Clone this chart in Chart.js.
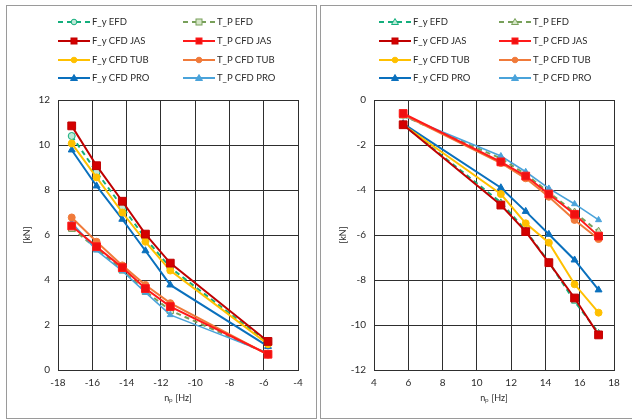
<!DOCTYPE html>
<html><head><meta charset="utf-8">
<script src="https://cdn.jsdelivr.net/npm/chart.js@4.4.0/dist/chart.umd.min.js"></script>
<style>
html,body{margin:0;padding:0;background:#fff;width:632px;height:419px;overflow:hidden;position:relative;}
.panel{position:absolute;border:1px solid #9a9a9a;box-sizing:border-box;}
canvas{position:absolute;top:0;}
.leg{position:absolute;font:9.5px Lato, sans-serif;color:#2a2a2a;white-space:nowrap;height:12px;line-height:12px;}
.leg svg{position:absolute;left:0;top:1px;}
.leg span{position:absolute;top:0;}
</style></head><body>
<div class="panel" style="left:6px;top:5px;width:311px;height:414px"></div>
<div class="panel" style="left:320px;top:5px;width:314px;height:414px"></div>
<canvas id="cL" width="316" height="419" style="left:0"></canvas>
<canvas id="cR" width="316" height="419" style="left:316px"></canvas>
<script>
// ---- data ----
const seriesNames = ["F_y EFD", "T_P EFD", "F_y CFD JAS", "T_P CFD JAS", "F_y CFD TUB", "T_P CFD TUB", "F_y CFD PRO", "T_P CFD PRO"];

const xLeft = [-17.2, -15.75, -14.25, -12.9, -11.45, -5.75];
const FyEFD_L = [10.4, 8.8, 7.25, 5.85, 4.55, 1.2];
const TpEFD_L = [6.3, 5.4, 4.45, 3.5, 2.65, 0.72];
const FyJAS_L = [10.85, 9.08, 7.5, 6.04, 4.75, 1.27];
const TpJAS_L = [6.4, 5.48, 4.55, 3.62, 2.82, 0.7];
const FyTUB_L = [10.07, 8.56, 7.0, 5.7, 4.42, 1.15];
const TpTUB_L = [6.78, 5.7, 4.65, 3.78, 2.97, 0.68];
const FyPRO_L = [9.78, 8.18, 6.7, 5.3, 3.78, 1.05];
const TpPRO_L = [6.55, 5.32, 4.4, 3.45, 2.45, 0.75];

const xRight = [5.7, 11.4, 12.85, 14.2, 15.7, 17.1];
const FyEFD_R = [-1.1, -4.55, -5.8, -7.2, -8.95, -10.35];
const TpEFD_R = [-0.7, -2.6, -3.3, -4.1, -5.0, -5.85];
const FyJAS_R = [-1.1, -4.67, -5.85, -7.23, -8.8, -10.44];
const TpJAS_R = [-0.6, -2.75, -3.38, -4.18, -5.08, -6.05];
const FyTUB_R = [-1.1, -4.18, -5.48, -6.34, -8.19, -9.45];
const TpTUB_R = [-0.65, -2.8, -3.48, -4.3, -5.33, -6.18];
const FyPRO_R = [-1.05, -3.9, -4.95, -5.97, -7.11, -8.44];
const TpPRO_R = [-0.7, -2.49, -3.19, -3.93, -4.62, -5.33];

const leftTicksX = {min: -18, max: -4, step: 2};
const leftTicksY = {min: 0, max: 12, step: 2};
const rightTicksX = {min: 4, max: 18, step: 2};
const rightTicksY = {min: -12, max: 0, step: 2};
const xTitle = "nₚ [Hz]";
const yTitle = "[kN]";

// ---- styles ----
const styles = [
  {color:'#14ae7c', dash:[5,4], point:'circle', r:3.5, fill:'#bfe9d8', order:3, w:2},
  {color:'#78a05a', dash:[5,4], point:'rect', r:4.5, fill:'#d6e6c8', order:3, w:2},
  {color:'#c00000', dash:[], point:'rect', r:5.5, fill:'#d40000', order:0, w:2},
  {color:'#ff1a1a', dash:[], point:'rect', r:5.5, fill:'#f01010', order:0, w:2},
  {color:'#ffc000', dash:[], point:'circle', r:3.5, fill:'#ffc000', order:1, w:2},
  {color:'#f07a3a', dash:[], point:'circle', r:3.5, fill:'#f07a3a', order:1, w:2},
  {color:'#0a70bd', dash:[], point:'triangle', r:4, fill:'#0a70bd', order:2, w:2},
  {color:'#4aa3da', dash:[], point:'triangle', r:3.5, fill:'#4aa3da', order:2, w:1.6}
];

function mk(xs, ys){ return xs.map((x,i)=>({x:x, y:ys[i]})); }

function build(canvasId, xs, seriesList, tx, ty, efdPoint){
  const datasets = seriesList.map((ys,i)=>{
    const s = styles[i];
    const ps = (i<2 && efdPoint) ? efdPoint : s.point;
    return {
      label: seriesNames[i], data: mk(xs, ys), showLine:true,
      borderColor:s.color, backgroundColor:s.fill, borderWidth:s.w, borderDash:s.dash,
      pointStyle: ps, pointRadius:s.r, pointBorderColor:s.color, pointBackgroundColor:s.fill,
      pointBorderWidth:1, order:s.order, tension:0
    };
  });
  const tickFont = {family:'Lato', size:10};
  return new Chart(document.getElementById(canvasId), {
    type:'scatter',
    data:{datasets},
    options:{
      responsive:false, animation:false, devicePixelRatio:1,
      layout:{padding:{left:0, top:100, right:18, bottom:0}},
      plugins:{legend:{display:false}, tooltip:{enabled:false}},
      scales:{
        x:{type:'linear', min:tx.min, max:tx.max,
           ticks:{stepSize:tx.step, color:'#2a2a2a', font:tickFont, padding:7},
           grid:{color:'#2e2e2e', drawTicks:false, lineWidth:1},
           border:{color:'#2e2e2e', width:1},
           title:{display:true, text:xTitle, color:'#2a2a2a', font:{family:'Lato', size:9}, padding:{top:0, bottom:15.5}},
           afterFit:(s)=>{s.height=49;}},
        y:{type:'linear', min:ty.min, max:ty.max,
           ticks:{stepSize:ty.step, color:'#2a2a2a', font:tickFont, padding:8},
           grid:{color:'#2e2e2e', drawTicks:false, lineWidth:1},
           border:{color:'#2e2e2e', width:1},
           title:{display:true, text:yTitle, color:'#2a2a2a', font:{family:'Lato', size:9}, padding:{top:22, bottom:0}},
           afterFit:(s)=>{s.width=58;}}
      }
    }
  });
}

const chartL = build('cL', xLeft, [FyEFD_L, TpEFD_L, FyJAS_L, TpJAS_L, FyTUB_L, TpTUB_L, FyPRO_L, TpPRO_L], leftTicksX, leftTicksY, null);
const chartR = build('cR', xRight, [FyEFD_R, TpEFD_R, FyJAS_R, TpJAS_R, FyTUB_R, TpTUB_R, FyPRO_R, TpPRO_R], rightTicksX, rightTicksY, 'triangle');

// ---- HTML legends ----
function markerSvg(s, ps){
  const c = s.color, f = s.fill;
  if (ps==='rect') return `<rect x="13" y="2" width="6" height="6" fill="${f}" stroke="${c}" stroke-width="1"/>`;
  if (ps==='triangle') return `<polygon points="16,1.5 19.5,7.5 12.5,7.5" fill="${f}" stroke="${c}" stroke-width="1"/>`;
  return `<circle cx="16" cy="5" r="2.8" fill="${f}" stroke="${c}" stroke-width="1"/>`;
}
function legend(chart, col1, col2, efdPoint){
  const rowsY = [16, 34.8, 53.6, 72.4];
  chart.data.datasets.forEach((d,i)=>{
    const s = styles[i];
    const ps = (i<2 && efdPoint) ? efdPoint : s.point;
    const left = (i%2===0) ? col1 : col2;
    const top = rowsY[Math.floor(i/2)];
    const el = document.createElement('div');
    el.className='leg';
    el.style.left = left+'px'; el.style.top = top+'px';
    const dash = s.dash.length ? `stroke-dasharray="5,4"` : '';
    el.innerHTML = `<svg width="32" height="10"><line x1="0" y1="5" x2="32" y2="5" stroke="${s.color}" stroke-width="2" ${dash}/>${markerSvg(s, ps)}</svg><span style="left:34px">${d.label}</span>`;
    document.body.appendChild(el);
  });
}
legend(chartL, 58, 183, null);
legend(chartR, 379, 499, 'triangle');
</script>
</body></html>
